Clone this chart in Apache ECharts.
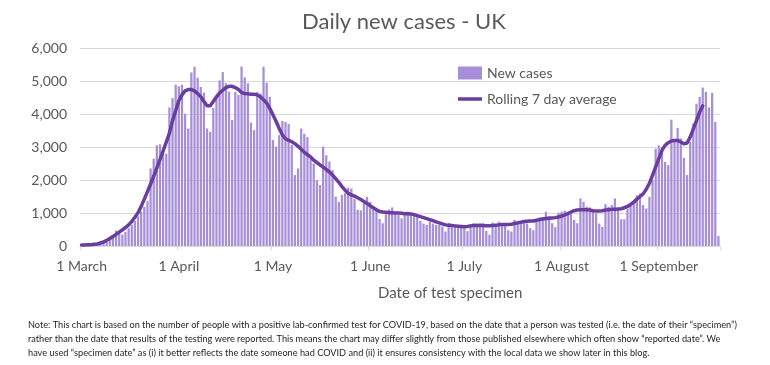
<!DOCTYPE html>
<html>
<head>
<meta charset="utf-8">
<script src="https://cdn.jsdelivr.net/npm/echarts@6/dist/echarts.min.js"></script>
<style>
html,body{margin:0;padding:0;background:#fff;}
#chart{width:770px;height:365px;}
</style>
</head>
<body>
<div id="chart"></div>
<script>
// Daily new cases (1 March 2020 onward, one value per day)
const newCases = [
  10,15,20,30,45,40,70,140,190,220,
  290,470,380,350,430,540,640,760,900,1050,
  1190,1360,2350,2650,3050,3080,2800,2800,4200,4480,
  4890,4840,4890,4010,3560,5260,5430,5100,4820,4650,
  3560,3460,4180,4550,5020,5270,4930,4680,3820,4670,
  4580,5440,5110,4930,3740,3510,4670,4620,5430,4950,
  4520,3210,3010,3360,3790,3760,3700,3060,2150,2350,
  3560,3400,3300,2650,2500,2000,1850,3010,2750,2560,
  2300,1500,1340,1550,1600,1770,1740,1420,1100,1080,
  1390,1490,1340,1190,1140,820,690,960,1110,1170,
  1040,940,840,990,1040,1000,990,880,760,680,
  640,740,680,640,640,590,440,700,620,620,
  640,600,540,450,660,690,680,690,690,460,
  340,710,600,740,700,640,480,440,790,740,
  740,710,680,540,480,790,870,880,1040,910,
  690,570,1010,1040,1070,990,1000,790,690,1440,
  1340,1190,1170,1090,990,680,580,1270,1190,1240,
  1440,1090,810,810,1140,1240,1340,1540,1590,1240,
  1140,1490,2000,2950,3050,3000,2550,2450,3830,3230,
  3580,3260,2670,2150,3160,3710,4310,4520,4800,4670,
  4200,4640,3760,300
];
// Rolling 7 day average
const rolling7 = [
  30,30,35,40,50,60,90,120,170,230,
  290,350,420,490,560,640,740,870,1010,1200,
  1420,1650,1880,2120,2370,2620,2880,3150,3420,3800,
  4100,4400,4580,4700,4740,4740,4700,4620,4520,4380,
  4250,4250,4380,4520,4640,4720,4800,4840,4840,4800,
  4740,4650,4620,4610,4600,4600,4580,4520,4430,4330,
  4170,3980,3780,3560,3370,3250,3200,3160,3100,3020,
  2930,2840,2770,2700,2600,2530,2460,2390,2320,2240,
  2150,2040,1930,1800,1690,1600,1550,1510,1460,1410,
  1350,1290,1220,1160,1100,1050,1030,1020,1010,1010,
  1000,1000,990,980,980,970,950,920,890,860,
  830,800,770,730,700,670,640,630,620,610,
  600,590,580,590,610,620,620,620,620,610,
  610,620,630,640,650,650,650,660,680,700,
  720,740,750,760,760,780,800,820,830,840,
  850,860,880,910,940,980,1030,1070,1090,1100,
  1100,1100,1090,1070,1060,1060,1070,1090,1100,1110,
  1110,1120,1130,1160,1200,1260,1330,1420,1500,1580,
  1720,1900,2150,2400,2650,2900,3050,3130,3180,3200,
  3200,3150,3100,3120,3300,3550,3800,4050,4250
];
const tickIndex = [0, 31, 61, 92, 122, 153, 184];
const tickLabels = ['1 March', '1 April', '1 May', '1 June', '1 July', '1 August', '1 September'];
const yTicks = [0, 1000, 2000, 3000, 4000, 5000, 6000];

const categories = [];
{
  const start = new Date(Date.UTC(2020, 2, 1));
  for (let i = 0; i < newCases.length; i++) {
    const d = new Date(start.getTime() + i * 86400000);
    categories.push(d.toISOString().slice(0, 10));
  }
}
const lineData = categories.map((c, i) => (i < rolling7.length ? rolling7[i] : null));
const labelFor = {};
tickIndex.forEach((idx, k) => { labelFor[idx] = tickLabels[k]; });

const FONT = 'Lato, "Open Sans", sans-serif';
const GREY = '#595959';

const chart = echarts.init(document.getElementById('chart'), null, { renderer: 'canvas' });
chart.setOption({
  animation: false,
  backgroundColor: '#ffffff',
  title: {
    text: 'Daily new cases - UK',
    left: 297,
    top: 6,
    textStyle: { fontFamily: FONT, fontSize: 22, fontWeight: 'normal', color: GREY }
  },
  legend: {
    left: 453,
    top: 61,
    orient: 'vertical',
    itemGap: 12,
    itemWidth: 24,
    itemHeight: 13,
    textStyle: { fontFamily: FONT, fontSize: 14, color: GREY },
    data: [
      { name: 'New cases', icon: 'rect' },
      { name: 'Rolling 7 day average', icon: 'path://M0,0 L24,0 L24,3.5 L0,3.5 Z', itemStyle: { color: '#6a3ea1' } }
    ]
  },
  grid: { left: 80, right: 50, top: 48, bottom: 119, containLabel: false },
  xAxis: {
    type: 'category',
    data: categories,
    boundaryGap: true,
    axisLine: { lineStyle: { color: '#d9d9d9', width: 1 } },
    axisTick: {
      show: true,
      length: 4,
      interval: (i) => labelFor[i] !== undefined,
      lineStyle: { color: '#d9d9d9' }
    },
    axisLabel: {
      interval: (i) => labelFor[i] !== undefined,
      formatter: (v, i) => labelFor[i] || '',
      fontFamily: FONT,
      fontSize: 14,
      color: GREY,
      margin: 13
    },
    splitLine: { show: false }
  },
  yAxis: {
    type: 'value',
    min: yTicks[0],
    max: yTicks[yTicks.length - 1],
    interval: 1000,
    axisLine: { show: false },
    axisTick: { show: false },
    axisLabel: {
      fontFamily: FONT,
      fontSize: 14,
      color: GREY,
      margin: 13,
      formatter: (v) => v.toLocaleString('en-GB')
    },
    splitLine: { lineStyle: { color: '#d9d9d9', width: 1 } }
  },
  series: [
    {
      name: 'New cases',
      type: 'bar',
      data: newCases,
      barCategoryGap: '28%',
      itemStyle: { color: '#a68fd8' },
      emphasis: { disabled: true }
    },
    {
      name: 'Rolling 7 day average',
      type: 'line',
      data: lineData,
      showSymbol: false,
      symbol: 'none',
      connectNulls: false,
      lineStyle: { color: '#6a3ea1', width: 3.5, join: 'round', cap: 'round' },
      itemStyle: { color: '#6a3ea1' },
      z: 5,
      emphasis: { disabled: true }
    }
  ],
  graphic: [
    {
      type: 'text', left: 378, top: 286,
      style: { text: 'Date of test specimen', font: '15px ' + FONT, fill: GREY }
    },
    {
      type: 'text', left: 28, top: 321,
      style: {
        text: 'Note: This chart is based on the number of people with a positive lab-confirmed test for COVID-19, based on the date that a person was tested (i.e. the date of their \u201cspecimen\u201d)',
        font: '9.2px ' + FONT, fill: '#262626'
      }
    },
    {
      type: 'text', left: 28, top: 335,
      style: {
        text: 'rather than the date that results of the testing were reported. This means the chart may differ slightly from those published elsewhere which often show \u201creported date\u201d. We',
        font: '9.2px ' + FONT, fill: '#262626'
      }
    },
    {
      type: 'text', left: 28, top: 349,
      style: {
        text: 'have used \u201cspecimen date\u201d as (i) it better reflects the date someone had COVID and (ii) it ensures consistency with the local data we show later in this blog.',
        font: '9.2px ' + FONT, fill: '#262626'
      }
    }
  ]
});
</script>
</body>
</html>
